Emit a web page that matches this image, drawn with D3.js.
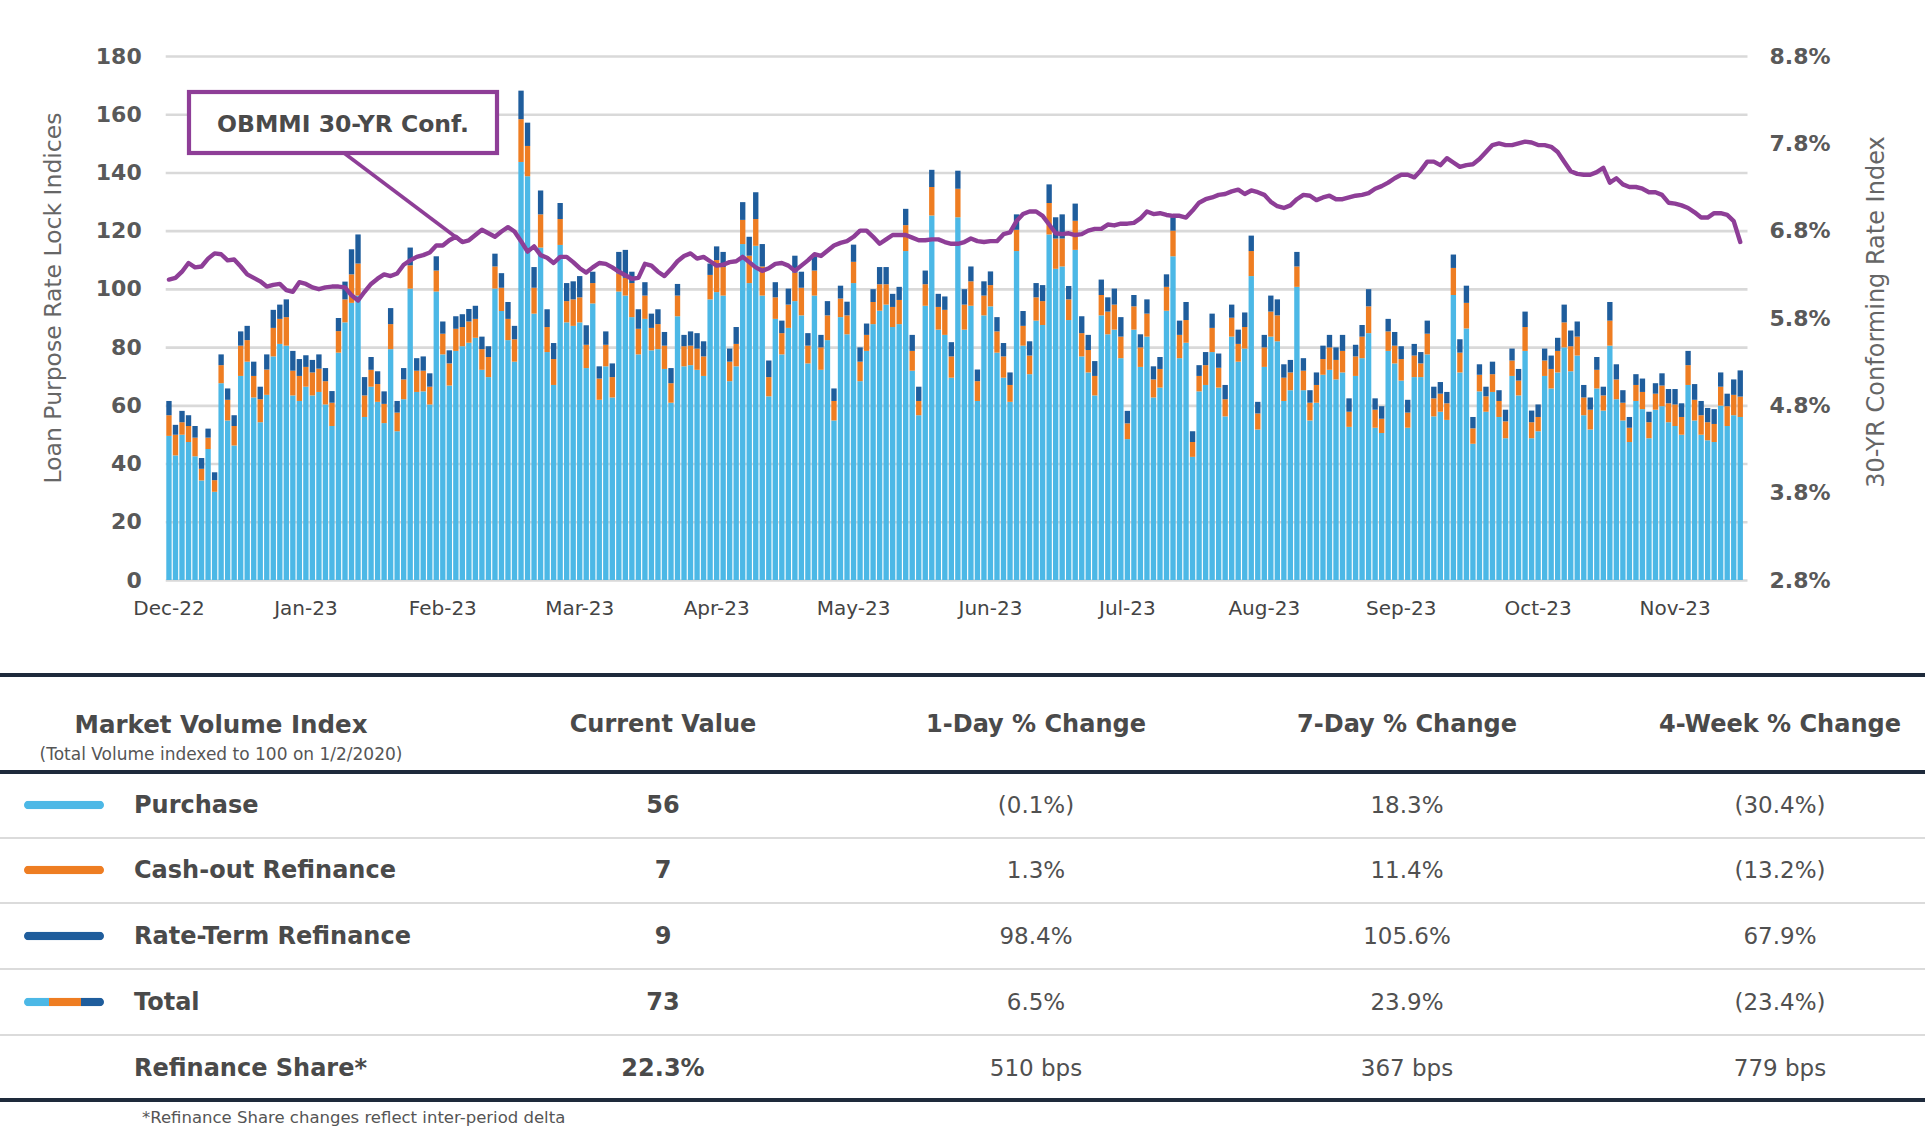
<!DOCTYPE html>
<html><head><meta charset="utf-8">
<script src="https://cdn.jsdelivr.net/npm/d3@7"></script>
<style>
body{margin:0;background:#fff;}
svg{display:block;font-family:"DejaVu Sans",sans-serif;}
</style></head><body>
<svg id="c" width="1925" height="1131"></svg>
<script>
// ---------------- DATA ----------------
const monthLabels = ["Dec-22","Jan-23","Feb-23","Mar-23","Apr-23","May-23","Jun-23","Jul-23","Aug-23","Sep-23","Oct-23","Nov-23"];
const labelEvery = 21;
const leftTicks = [0,20,40,60,80,100,120,140,160,180];
const rightTicks = [2.8,3.8,4.8,5.8,6.8,7.8,8.8];

const purchase = [
49.5,42.8,49.9,47.4,42.5,34.2,45.0,30.3,67.6,54.8,46.2,70.1,75.0,62.7,54.2,63.6,76.8,81.1,80.5,63.4,61.5,66.4,63.4,64.6,60.3,52.9,78.1,88.5,95.2,97.7,
56.0,66.4,61.2,53.9,79.3,51.1,62.1,100.1,64.6,64.8,60.3,99.1,77.5,66.8,78.7,80.3,81.5,83.2,72.2,69.7,100.1,92.4,82.4,75.0,143.6,138.7,91.5,114.2,78.3,67.0,115.1,
88.5,87.3,88.5,72.8,95.0,61.9,73.4,62.7,99.1,97.7,90.3,77.5,89.7,78.9,79.3,72.5,60.9,90.6,73.4,73.8,72.2,70.1,96.4,98.9,97.7,68.3,73.4,115.4,102.0,114.8,97.7,63.1,
89.7,77.5,86.6,95.8,90.9,74.4,97.7,72.2,82.4,54.8,90.3,84.4,102.0,68.3,78.7,87.9,92.5,94.6,86.9,87.9,113.0,71.9,56.6,94.2,125.2,86.0,84.2,69.5,124.6,86.0,94.2,
61.5,90.9,94.0,78.1,69.5,61.2,113.0,80.5,70.7,89.1,87.6,118.7,106.9,107.7,89.3,113.4,76.8,71.3,63.4,90.9,84.4,86.0,76.2,48.4,86.0,73.2,83.6,62.7,66.1,92.5,111.2,
76.2,81.5,42.3,64.8,67.0,78.3,66.1,56.2,83.6,75.0,79.5,104.4,51.7,73.2,83.6,82.0,61.5,65.2,100.7,65.2,54.8,60.9,70.5,72.2,68.9,71.3,52.6,70.1,76.2,84.8,52.3,
50.5,78.7,74.4,68.5,52.3,69.7,69.7,77.5,56.2,57.8,55.0,97.9,71.3,86.4,46.8,64.8,57.8,64.6,56.0,48.7,70.1,63.4,78.7,48.7,51.1,70.1,65.8,71.3,79.9,71.7,77.1,56.6,
51.7,65.8,58.2,80.5,62.1,54.8,47.4,61.5,58.7,48.7,58.5,59.7,54.2,52.9,49.9,67.0,54.8,49.9,48.0,47.4,59.9,52.9,56.6,56.0
];
const cashout = [
7.1,7.1,4.3,5.5,6.4,4.0,3.9,4.0,6.2,7.1,6.7,10.4,7.4,7.4,7.9,8.7,9.8,8.6,9.8,8.5,8.6,6.8,7.9,8.0,8.0,8.0,7.4,7.9,9.8,11.0,
7.4,5.8,6.1,6.6,8.6,6.4,6.8,8.0,7.3,7.1,6.1,7.2,7.1,7.6,7.6,6.6,7.3,6.5,7.1,6.9,7.6,8.0,7.3,7.7,14.7,10.4,8.9,11.4,8.6,8.9,8.9,
7.3,9.1,8.6,8.0,7.0,7.3,7.4,7.0,6.2,6.1,11.7,8.8,8.0,7.7,8.6,8.0,6.7,7.1,6.9,6.7,7.3,6.7,8.4,11.0,9.8,6.7,7.7,8.3,9.4,9.2,10.0,6.6,
7.4,7.3,8.0,9.8,9.5,6.1,8.6,7.7,8.5,6.7,6.4,6.5,7.3,6.7,5.5,7.6,9.1,7.0,6.9,8.3,8.9,6.8,4.9,7.4,9.8,7.8,8.6,7.3,9.8,8.6,8.4,
6.8,6.8,7.3,7.3,7.3,5.8,7.3,6.8,6.4,8.0,8.2,10.8,10.4,9.6,7.1,10.0,8.0,7.7,6.7,7.0,7.8,8.6,7.4,5.4,8.0,6.7,7.9,6.2,6.4,8.2,8.8,
8.0,7.8,5.1,5.3,6.8,8.3,6.8,5.9,6.5,6.1,7.4,8.6,5.5,6.7,8.6,8.9,8.0,6.1,7.0,6.7,6.1,6.1,5.4,7.7,6.7,7.4,5.2,6.7,7.4,9.2,6.2,
4.9,6.7,6.1,7.4,5.2,7.4,4.7,7.1,6.2,6.2,5.7,9.3,6.8,8.8,5.3,5.7,5.3,6.1,5.5,5.8,5.3,5.1,8.2,5.5,4.9,5.3,6.7,7.4,8.6,8.6,6.5,6.1,
6.8,6.4,5.2,8.6,6.8,6.1,4.9,5.5,5.9,5.5,5.5,7.1,6.5,7.4,6.1,6.8,7.1,6.7,6.2,6.2,6.5,6.8,7.0,7.0
];
const rateTerm = [
4.9,3.4,3.9,3.7,4.0,3.7,3.1,2.7,3.7,3.9,3.7,4.9,4.9,4.9,4.3,5.2,6.2,4.9,6.1,6.8,5.8,4.0,4.3,4.9,4.5,4.0,4.5,6.1,8.6,10.0,
6.3,4.4,4.4,4.3,5.5,4.0,3.9,6.1,4.3,4.9,4.6,4.9,4.2,4.5,4.3,4.4,4.3,4.5,4.3,3.7,4.4,5.0,5.8,4.6,9.8,8.0,7.1,8.2,6.1,5.5,5.5,
6.2,6.2,7.3,6.7,3.9,4.2,4.6,4.7,7.4,9.6,3.9,6.7,4.6,4.9,5.1,4.7,5.2,4.0,3.9,4.9,5.3,5.2,3.9,4.7,5.2,4.5,5.8,6.1,6.5,9.2,7.7,5.7,
5.2,4.3,5.5,5.8,5.5,4.3,4.9,4.3,4.9,4.3,4.4,4.7,5.9,4.9,3.9,4.4,5.9,5.9,4.5,4.5,5.6,5.5,4.9,4.7,5.9,4.5,4.6,4.9,6.2,5.3,5.1,
4.0,4.9,4.7,4.9,4.6,4.3,5.3,5.1,4.9,4.9,5.5,6.4,7.3,8.3,4.6,5.9,5.8,5.2,5.1,5.3,4.9,5.5,6.7,4.3,3.9,4.5,4.9,4.5,4.1,4.3,4.6,
4.9,6.2,3.7,3.7,4.5,4.9,4.9,4.9,4.5,4.9,5.0,5.3,4.0,4.3,5.5,5.5,4.6,4.3,5.0,4.3,4.3,4.3,4.6,4.3,4.3,5.5,4.6,4.0,4.0,5.9,3.9,
4.3,4.3,4.7,4.4,4.4,4.0,3.9,4.5,4.0,4.0,3.9,4.6,4.6,5.9,3.9,3.6,3.3,4.3,3.7,4.0,4.1,4.0,5.3,4.0,4.3,4.1,4.6,4.5,6.1,5.4,5.2,4.3,
4.2,4.4,3.0,6.4,5.2,4.3,3.7,3.7,4.6,3.6,3.6,4.2,4.9,5.3,4.7,4.9,5.4,4.9,4.9,5.1,4.9,4.3,5.3,9.0
];
const rate30 = [
6.24,6.26,6.33,6.43,6.38,6.39,6.48,6.54,6.53,6.46,6.47,6.39,6.30,6.26,6.22,6.16,6.18,6.19,6.12,6.10,6.21,6.19,6.15,6.13,6.15,6.16,6.16,6.15,6.06,6.00,
6.10,6.19,6.25,6.30,6.28,6.31,6.41,6.46,6.50,6.52,6.55,6.63,6.63,6.69,6.73,6.67,6.69,6.75,6.81,6.77,6.73,6.79,6.84,6.79,6.68,6.56,6.62,6.52,6.49,6.43,6.50,
6.50,6.44,6.37,6.32,6.38,6.43,6.42,6.38,6.33,6.29,6.25,6.26,6.42,6.40,6.33,6.28,6.36,6.45,6.51,6.54,6.48,6.50,6.45,6.40,6.41,6.44,6.45,6.50,6.44,6.38,6.34,6.37,
6.42,6.43,6.40,6.34,6.40,6.46,6.53,6.51,6.57,6.63,6.66,6.68,6.73,6.80,6.80,6.73,6.65,6.70,6.75,6.75,6.75,6.72,6.69,6.69,6.70,6.70,6.67,6.65,6.65,6.67,6.71,
6.68,6.67,6.68,6.68,6.76,6.78,6.91,6.99,7.02,7.02,6.97,6.87,6.77,6.76,6.77,6.75,6.76,6.80,6.82,6.82,6.87,6.86,6.88,6.88,6.89,6.94,7.02,6.99,7.00,6.98,6.97,6.97,
6.95,7.03,7.12,7.16,7.18,7.21,7.22,7.25,7.27,7.22,7.26,7.24,7.21,7.13,7.08,7.06,7.09,7.16,7.21,7.20,7.15,7.18,7.20,7.16,7.16,7.18,7.20,7.21,7.23,7.28,7.31,
7.35,7.40,7.44,7.44,7.41,7.49,7.59,7.59,7.55,7.63,7.58,7.53,7.55,7.56,7.62,7.70,7.78,7.80,7.78,7.78,7.80,7.82,7.81,7.78,7.78,7.76,7.70,7.59,7.48,7.45,7.44,
7.44,7.47,7.52,7.35,7.40,7.33,7.30,7.30,7.28,7.24,7.24,7.21,7.12,7.11,7.09,7.06,7.01,6.95,6.95,7.00,7.00,6.98,6.91,6.67
];
const annotationText = "OBMMI 30-YR Conf.";
const annotationIndex = 45;

// table
const tableHeaders = ["Current Value","1-Day % Change","7-Day % Change","4-Week % Change"];
const rowNames = ["Purchase","Cash-out Refinance","Rate-Term Refinance","Total","Refinance Share*"];
const currentValues = ["56","7","9","73","22.3%"];
const oneDayChange = ["(0.1%)","1.3%","98.4%","6.5%","510 bps"];
const sevenDayChange = ["18.3%","11.4%","105.6%","23.9%","367 bps"];
const fourWeekChange = ["(30.4%)","(13.2%)","67.9%","(23.4%)","779 bps"];

// ---------------- DRAW ----------------
const C = {purchase:"#4cb8e6", cashout:"#ee7d22", rateTerm:"#1f5d9c", line:"#8e3e97", grid:"#d9d9d9", text:"#565656", navy:"#1e2a3b"};
const svg = d3.select("#c");
const N = purchase.length;
const plotL = 165.7, plotR = 1743.5, yTop = 56, yBot = 580;

const x = d3.scaleBand().domain(d3.range(N)).range([plotL, plotR]).paddingInner(0.18).paddingOuter(0.09);
const y = d3.scaleLinear().domain([0,180]).range([yBot, yTop]);
const yR = d3.scaleLinear().domain([2.8,8.8]).range([yBot, yTop]);

// left axis + grid
const gL = svg.append("g").attr("transform",`translate(${plotL},0)`)
  .call(d3.axisLeft(y).tickValues(leftTicks).tickSize(-(plotR-plotL+4)).tickPadding(24));
gL.select(".domain").remove();
gL.selectAll(".tick line").attr("stroke",C.grid).attr("stroke-width",2.6);
gL.selectAll(".tick text").attr("font-size",22).attr("font-weight","bold").attr("fill","#595959").attr("font-family","DejaVu Sans");

// right axis
const gR = svg.append("g").attr("transform",`translate(${plotR},0)`)
  .call(d3.axisRight(yR).tickValues(rightTicks).tickSize(0).tickPadding(26).tickFormat(d=>d3.format(".1f")(d)+"%"));
gR.select(".domain").remove();
gR.selectAll(".tick text").attr("font-size",22).attr("font-weight","bold").attr("fill","#595959").attr("font-family","DejaVu Sans");

// bottom axis
const gB = svg.append("g").attr("transform",`translate(0,${yBot})`)
  .call(d3.axisBottom(x).tickValues(d3.range(0,N,labelEvery)).tickSize(0).tickPadding(21)
    .tickFormat(i=>monthLabels[i/labelEvery]));
gB.select(".domain").remove();
gB.selectAll(".tick text").attr("font-size",20).attr("fill","#444").attr("font-family","DejaVu Sans");

// bars
const rows = purchase.map((p,i)=>({i, purchase:p, cashout:cashout[i], rateTerm:rateTerm[i]}));
const keys = ["purchase","cashout","rateTerm"];
const series = d3.stack().keys(keys)(rows);
svg.append("g").selectAll("g").data(series).join("g").attr("fill",d=>C[d.key])
  .selectAll("rect").data(d=>d).join("rect")
  .attr("x",d=>x(d.data.i)).attr("width",x.bandwidth())
  .attr("y",d=>y(d[1])).attr("height",d=>y(d[0])-y(d[1]));

// rate line
const lx = i=>x(i)+x.bandwidth()/2;
svg.append("path").datum(rate30)
  .attr("d", d3.line().x((d,i)=>lx(i)).y(d=>yR(d)))
  .attr("fill","none").attr("stroke",C.line).attr("stroke-width",4.4).attr("stroke-linejoin","round").attr("stroke-linecap","round");

// annotation
const box = {x:189, y:92, w:308, h:61};
svg.append("line").attr("x1",344).attr("y1",box.y+box.h).attr("x2",lx(annotationIndex)).attr("y2",yR(rate30[annotationIndex]))
  .attr("stroke",C.line).attr("stroke-width",3.6);
svg.append("rect").attr("x",box.x).attr("y",box.y).attr("width",box.w).attr("height",box.h)
  .attr("fill","#fff").attr("stroke",C.line).attr("stroke-width",4.2);
svg.append("text").attr("x",box.x+box.w/2).attr("y",box.y+box.h/2+1).attr("text-anchor","middle").attr("dominant-baseline","central")
  .attr("font-size",23.5).attr("font-weight","bold").attr("fill","#4a4a4a").text(annotationText);

// axis titles
svg.append("text").attr("transform","translate(53,298) rotate(-90)").attr("text-anchor","middle").attr("dominant-baseline","central")
  .attr("font-size",23.5).attr("fill","#666").text("Loan Purpose Rate Lock Indices");
svg.append("text").attr("transform","translate(1876,312) rotate(-90)").attr("text-anchor","middle").attr("dominant-baseline","central")
  .attr("font-size",24).attr("fill","#666").text("30-YR Conforming Rate Index");

// ---------------- TABLE ----------------
const T = svg.append("g");
const colX = [663,1036,1407,1780];
const rowY = [805,870,936,1002,1068];
const sepY = [838,903,969,1035];
[675,772,1100].forEach(yy=>T.append("rect").attr("x",0).attr("y",yy-2).attr("width",1925).attr("height",4).attr("fill",C.navy));
sepY.forEach(yy=>T.append("rect").attr("x",0).attr("y",yy-0.75).attr("width",1925).attr("height",1.5).attr("fill","#cfcfcf"));

T.append("text").attr("x",221).attr("y",724).attr("text-anchor","middle").attr("dominant-baseline","central")
  .attr("font-size",24.5).attr("font-weight","bold").attr("fill","#4a4a4a").text("Market Volume Index");
T.append("text").attr("x",221).attr("y",754).attr("text-anchor","middle").attr("dominant-baseline","central")
  .attr("font-size",17).attr("fill","#555").text("(Total Volume indexed to 100 on 1/2/2020)");
tableHeaders.forEach((h,j)=>T.append("text").attr("x",colX[j]).attr("y",724).attr("text-anchor","middle").attr("dominant-baseline","central")
  .attr("font-size",24).attr("font-weight","bold").attr("fill","#4a4a4a").text(h));

const cols = [currentValues, oneDayChange, sevenDayChange, fourWeekChange];
rowNames.forEach((name,r)=>{
  T.append("text").attr("x",134).attr("y",rowY[r]).attr("dominant-baseline","central")
    .attr("font-size",24).attr("font-weight","bold").attr("fill","#4a4a4a").text(name);
  cols.forEach((col,j)=>T.append("text").attr("x",colX[j]).attr("y",rowY[r]).attr("text-anchor","middle").attr("dominant-baseline","central")
    .attr("font-size",j===0?24:23).attr("font-weight",j===0?"bold":"normal").attr("fill",j===0?"#4a4a4a":"#505050").text(col[r]));
});
// legend swatches
const swatch = (yy, segs) => {
  const g = T.append("g");
  const x0 = 24, x1 = 104, h = 8.5;
  const clipId = "clip"+yy;
  g.append("clipPath").attr("id",clipId).append("rect").attr("x",x0).attr("y",yy-h/2).attr("width",x1-x0).attr("height",h).attr("rx",h/2);
  const gg = g.append("g").attr("clip-path",`url(#${clipId})`);
  segs.forEach(s=>gg.append("rect").attr("x",s[0]).attr("y",yy-h/2).attr("width",s[1]-s[0]).attr("height",h).attr("fill",s[2]));
};
swatch(rowY[0], [[24,104,C.purchase]]);
swatch(rowY[1], [[24,104,C.cashout]]);
swatch(rowY[2], [[24,104,C.rateTerm]]);
swatch(rowY[3], [[24,49,C.purchase],[49,81,C.cashout],[81,104,C.rateTerm]]);

T.append("text").attr("x",142).attr("y",1117).attr("dominant-baseline","central")
  .attr("font-size",16.5).attr("fill","#555").text("*Refinance Share changes reflect inter-period delta");
</script>
</body></html>
